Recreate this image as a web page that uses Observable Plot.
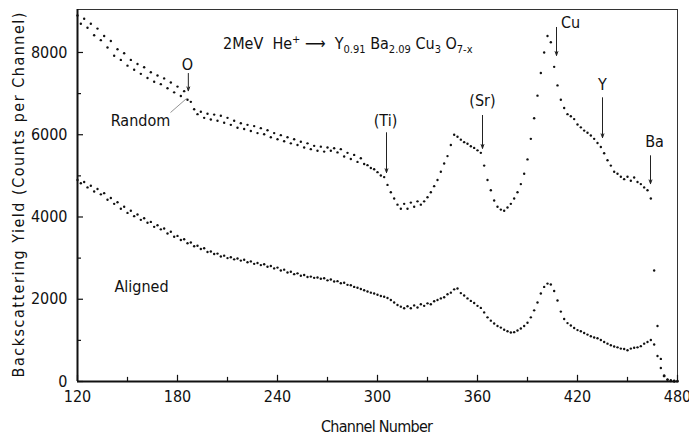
<!DOCTYPE html>
<html><head><meta charset="utf-8">
<script src="https://cdn.jsdelivr.net/npm/d3@7"></script>
<script src="https://cdn.jsdelivr.net/npm/@observablehq/plot@0.6"></script>
<style>
body{margin:0;background:#fff}
svg{font-family:"DejaVu Sans Condensed","Liberation Sans Narrow","Liberation Sans",sans-serif}
</style>
</head><body><div id="chart"></div><script>
const channels = [120,122,124,126,128,130,132,134,136,138,140,142,144,146,148,150,152,154,156,158,160,162,164,166,168,170,172,174,176,178,180,182,184,186,188,190,192,194,196,198,200,202,204,206,208,210,212,214,216,218,220,222,224,226,228,230,232,234,236,238,240,242,244,246,248,250,252,254,256,258,260,262,264,266,268,270,272,274,276,278,280,282,284,286,288,290,292,294,296,298,300,302,304,306,308,310,312,314,316,318,320,322,324,326,328,330,332,334,336,338,340,342,344,346,348,350,352,354,356,358,360,362,364,366,368,370,372,374,376,378,380,382,384,386,388,390,392,394,396,398,400,402,404,406,408,410,412,414,416,418,420,422,424,426,428,430,432,434,436,438,440,442,444,446,448,450,452,454,456,458,460,462,464,466,468,470,472,474,476,478,480];
const randomCounts = [
8900,8700,8820,8600,8700,8420,8580,8300,8400,8120,
8280,7920,8080,7820,7980,7680,7820,7580,7720,7480,
7640,7380,7520,7290,7440,7230,7370,7130,7270,7030,
7170,6940,7060,6850,6800,6620,6500,6560,6410,6510,
6370,6490,6340,6460,6290,6410,6240,6340,6170,6280,
6140,6240,6090,6210,6040,6160,6010,6110,5940,6040,
5890,5990,5840,5940,5790,5890,5750,5830,5690,5790,
5650,5730,5610,5710,5590,5690,5610,5670,5570,5650,
5470,5560,5410,5510,5340,5430,5290,5260,5190,5160,
5090,5010,4970,4780,4600,4450,4300,4200,4320,4200,
4350,4250,4380,4300,4380,4480,4600,4750,4900,5100,
5300,5480,5750,6000,5950,5880,5820,5780,5720,5680,
5620,5560,5250,4900,4650,4400,4250,4180,4150,4230,
4320,4450,4600,4800,5050,5400,5900,6400,6950,7500,
8000,8400,8250,7650,7200,6850,6650,6500,6450,6380,
6250,6180,6100,6050,5980,5900,5800,5700,5550,5380,
5250,5100,5050,4980,4920,4980,4880,4960,4850,4800,
4720,4650,4450,2700,1350,550,150,40,10,0,
0];
const alignedCounts = [
4900,4820,4850,4720,4760,4620,4680,4550,4580,4420,
4460,4320,4360,4200,4250,4100,4150,4020,4060,3930,
3970,3860,3880,3760,3800,3700,3720,3600,3640,3520,
3540,3440,3460,3360,3380,3290,3300,3220,3240,3150,
3160,3100,3110,3040,3060,3000,3020,2970,2990,2940,
2960,2900,2920,2860,2880,2830,2850,2790,2810,2750,
2770,2700,2720,2650,2670,2610,2630,2570,2590,2540,
2550,2520,2530,2500,2510,2460,2480,2430,2440,2390,
2400,2350,2340,2300,2280,2250,2220,2190,2160,2140,
2110,2080,2060,2030,1980,1920,1860,1820,1780,1830,
1780,1850,1800,1880,1840,1900,1880,1950,1980,2020,
2050,2120,2160,2240,2260,2150,2090,2020,1960,1910,
1840,1790,1680,1560,1480,1410,1350,1310,1260,1220,
1190,1200,1240,1290,1350,1430,1560,1730,1920,2140,
2300,2380,2360,2200,1970,1700,1520,1420,1360,1300,
1250,1220,1180,1140,1100,1070,1050,1010,960,920,
880,850,830,800,790,760,800,820,830,860,
920,960,1010,900,620,330,130,50,30,20,
15];
const xTicks = [120,180,240,300,360,420,480];
const xMinorTicks = [150,210,270,330,390,450];
const yTicks = [0,2000,4000,6000,8000];
const yMinorTicks = [1000,3000,5000,7000];
const labelText = ["O","Random","(Ti)","(Sr)","Cu","Y","Ba","Aligned"];
const labelChannel = [186,157.8,304.8,363,415.8,435,466.2,158.4];
const labelCounts = [7707,6346,6346,6832,8729,7221,5835,2309];
const arrowChannel = [186.5,305.4,363,407.4,435,463.8];
const arrowTop = [7490,6050,6470,8610,6900,5490];
const arrowTip = [7070,5080,5670,7930,5930,4810];
const leaderChannel = [175.8,185.4];
const leaderCounts = [6540,6880];

const randomData = channels.map((c,i)=>({channel:c, counts:randomCounts[i]}));
const alignedData = channels.map((c,i)=>({channel:c, counts:alignedCounts[i]}));
const labels = labelText.map((t,i)=>({text:t, channel:labelChannel[i], counts:labelCounts[i]}));
const arrows = arrowChannel.map((c,i)=>({channel:c, top:arrowTop[i], tip:arrowTip[i]}));
const leader = [{x1:leaderChannel[0], y1:leaderCounts[0], x2:leaderChannel[1], y2:leaderCounts[1]}];

const font = '"DejaVu Sans Condensed","Liberation Sans Narrow","Liberation Sans",sans-serif';
const plot = Plot.plot({
  width: 689, height: 437,
  marginLeft: 77, marginRight: 12, marginTop: 9, marginBottom: 56,
  x: {domain: [120, 480]},
  y: {domain: [0, 9045]},
  style: {fontFamily: font, fontSize: "16px", color: "#111", background: "white", overflow: "visible"},
  marks: [
    Plot.frame({stroke: "#333", strokeWidth: 1}),
    Plot.ruleX([120], {stroke: "#111", strokeWidth: 2}),
    Plot.ruleY([0], {stroke: "#111", strokeWidth: 2}),
    Plot.ruleX(xTicks, {x: d => d, y1: 0, y2: 150, stroke: "#111", strokeWidth: 1.2}),
    Plot.ruleX(xMinorTicks, {x: d => d, y1: 0, y2: 100, stroke: "#111", strokeWidth: 1.2}),
    Plot.ruleY(yTicks, {y: d => d, x1: 120, x2: 123.6, stroke: "#111", strokeWidth: 1.2}),
    Plot.ruleY(yMinorTicks, {y: d => d, x1: 120, x2: 122.4, stroke: "#111", strokeWidth: 1.2}),
    Plot.axisX({ticks: xTicks, tickSize: 0, tickPadding: 9, label: null, fontSize: 16, tickFormat: d3.format("d")}),
    Plot.axisY({ticks: yTicks, tickSize: 0, tickPadding: 10, label: null, fontSize: 16, tickFormat: d3.format("d")}),
    Plot.dot(randomData, {x: "channel", y: "counts", r: 1.2, fill: "#111", stroke: "none"}),
    Plot.dot(alignedData, {x: "channel", y: "counts", r: 1.2, fill: "#111", stroke: "none"}),
    Plot.arrow(arrows, {x: "channel", y1: "top", y2: "tip", stroke: "#222", strokeWidth: 1, headLength: 6, headAngle: 40}),
    Plot.link(leader, {x1: "x1", y1: "y1", x2: "x2", y2: "y2", stroke: "#777", strokeWidth: 0.8}),
    Plot.text(labels, {x: "channel", y: "counts", text: "text", fontSize: 16, fill: "#111", lineAnchor: "middle"})
  ]
});
document.getElementById("chart").appendChild(plot);

const svg = d3.select(plot);
const xs = plot.scale("x"), ys = plot.scale("y");
// title formula
const title = svg.append("text")
  .attr("x", xs.apply(207.6)).attr("y", ys.apply(8072)).attr("text-anchor", "start")
  .attr("font-size", 16).attr("fill", "#111").attr("font-family", font);
const parts = [["2MeV  He",0],["+",-6],[" \u27F6  Y",6],["0.91",4],[" Ba",-4],["2.09",4],[" Cu",-4],["3",4],[" O",-4],["7-x",4]];
parts.forEach(([s, dy]) => {
  const sub = (s === "0.91" || s === "2.09" || s === "3" || s === "7-x" || s === "+");
  title.append("tspan").attr("dy", dy).attr("font-size", sub ? 11 : 16).text(s);
});
// axis titles
svg.append("text")
  .attr("x", 377).attr("y", 432).attr("text-anchor", "middle")
  .attr("font-size", 16).attr("fill", "#111").attr("font-family", font)
  .attr("textLength", 112).text("Channel Number");
svg.append("text")
  .attr("transform", "translate(24,195) rotate(-90)").attr("text-anchor", "middle")
  .attr("font-size", 16).attr("fill", "#111").attr("font-family", font)
  .attr("textLength", 365).text("Backscattering Yield (Counts per Channel)");
</script></body></html>
